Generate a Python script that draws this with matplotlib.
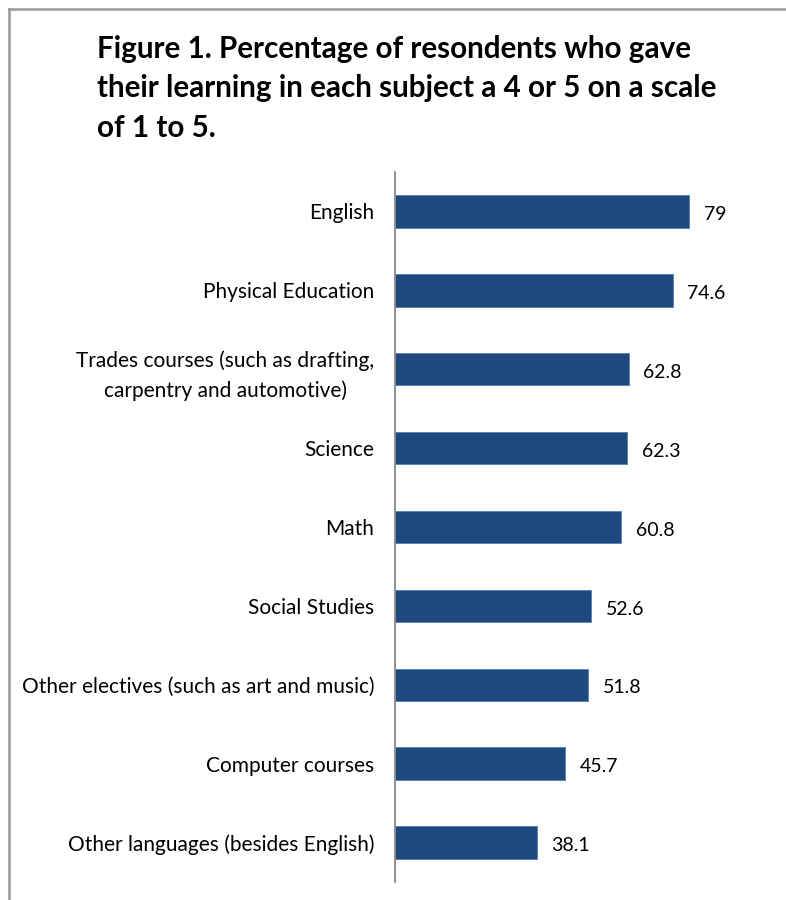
import matplotlib
matplotlib.use("Agg")
import matplotlib.pyplot as plt
from matplotlib.lines import Line2D

plt.rcParams['font.family'] = ['Lato', 'DejaVu Sans']

subjects = [
    "English",
    "Physical Education",
    "Trades courses (such as drafting,\ncarpentry and automotive)",
    "Science",
    "Math",
    "Social Studies",
    "Other electives (such as art and music)",
    "Computer courses",
    "Other languages (besides English)",
]
values = [79, 74.6, 62.8, 62.3, 60.8, 52.6, 51.8, 45.7, 38.1]
value_labels = ["79", "74.6", "62.8", "62.3", "60.8", "52.6", "51.8", "45.7", "38.1"]

W, H = 786, 900
fig = plt.figure(figsize=(W / 100, H / 100), dpi=100)

# axes: left spine at x=395, top 172, bottom 882 (pixels)
left, right = 395, 395 + 3.72 * 100
top, bottom = 172, 882
ax = fig.add_axes([left / W, 1 - bottom / H, (right - left) / W, (bottom - top) / H])

ypos = list(range(len(subjects)))
ax.barh(ypos, values, height=0.41, color="#1F497D", edgecolor="#4F81BD", linewidth=0.6)
ax.set_ylim(len(subjects) - 0.5, -0.5)
ax.set_xlim(0, 100)

for y, v, lab in zip(ypos, values, value_labels):
    ax.text(v + 4, y + 0.04, lab, va="center", ha="left", fontsize=14, color="black")

ax.set_yticks(ypos)
ax.set_yticklabels(subjects, fontsize=15, ha="right", multialignment="center")
for t in ax.get_yticklabels():
    t.set_linespacing(1.55)
ax.tick_params(axis="y", length=0, pad=15)
ax.set_xticks([])
for s in ["top", "right", "bottom"]:
    ax.spines[s].set_visible(False)
ax.spines["left"].set_color("#888888")
ax.spines["left"].set_linewidth(1.3)

# outer frame (top and left edges)
fig.add_artist(Line2D([9 / W, 9 / W], [0, 1 - 9 / H], transform=fig.transFigure,
                      color="#999999", linewidth=1.8))
fig.add_artist(Line2D([9 / W, 1], [1 - 9 / H, 1 - 9 / H], transform=fig.transFigure,
                      color="#999999", linewidth=1.8))

fig.text(97 / W, 1 - 35 / H,
         "Figure 1. Percentage of resondents who gave\n"
         "their learning in each subject a 4 or 5 on a scale\n"
         "of 1 to 5.",
         fontsize=21.3, fontweight="bold", ha="left", va="top",
         linespacing=1.5, color="black")

fig.savefig("out.png", dpi=100)
